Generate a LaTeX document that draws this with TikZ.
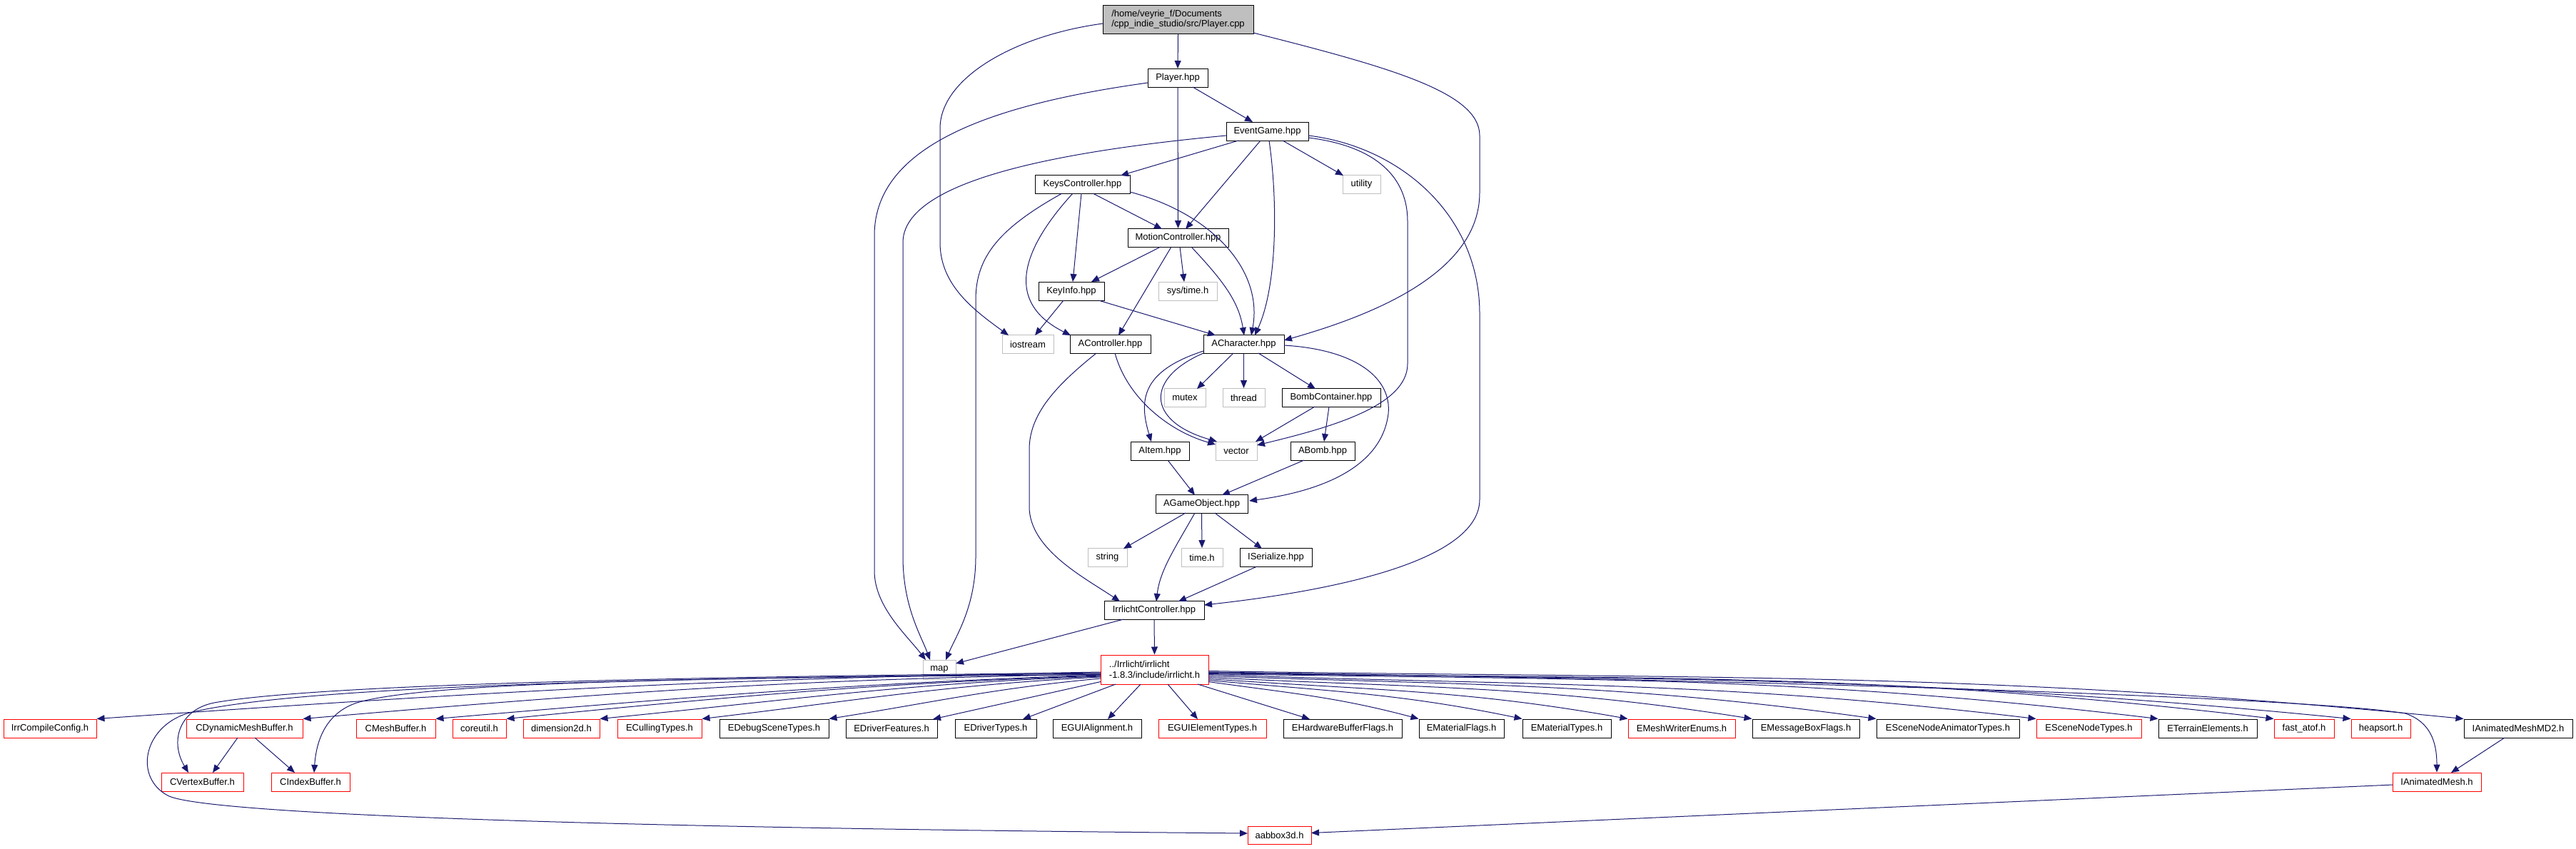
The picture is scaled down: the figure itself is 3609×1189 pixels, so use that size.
\documentclass[tikz,border=0pt]{standalone}
\usepackage{fontspec}
\setmainfont{Liberation Sans}
\usetikzlibrary{arrows.meta,calc}
\definecolor{edgecol}{HTML}{191970}
\definecolor{sysgrey}{HTML}{BFBFBF}
\begin{document}
\begin{tikzpicture}[x=1pt,y=-1pt,
  box/.style={draw, line width=1pt, minimum height=26pt, inner sep=0pt, fill=white,
    font=\fontsize{13}{14.5}\selectfont},
  blkbox/.style={box, draw=black},
  redbox/.style={box, draw=red},
  sysbox/.style={box, draw=sysgrey},
  rootbox/.style={box, draw=black, fill=sysgrey},
  edge/.style={draw=edgecol, line width=1pt, -{Triangle[length=11pt,width=9pt]}}]
\useasboundingbox (0,0) rectangle (3609,1189);
\fill[white] (0,0) rectangle (3609,1189);

% ---- upper part ----
\node[rootbox, minimum width=211pt, minimum height=40pt, align=left] (cpp) at (1650.5,27) {/home/veyrie\_f/Documents\\/cpp\_indie\_studio/src/Player.cpp};
\node[blkbox, minimum width=84pt] (phpp) at (1650,109.5) {Player.hpp};
\node[blkbox, minimum width=115pt] (evg) at (1775.5,184) {EventGame.hpp};
\node[blkbox, minimum width=133pt] (keys) at (1516.5,258.5) {KeysController.hpp};
\node[sysbox, minimum width=53pt] (util) at (1907.5,258.5) {utility};
\node[blkbox, minimum width=141pt] (motion) at (1650.5,333.5) {MotionController.hpp};
\node[blkbox, minimum width=92pt] (keyinfo) at (1501,408) {KeyInfo.hpp};
\node[sysbox, minimum width=82pt] (systime) at (1664,408) {sys/time.h};
\node[sysbox, minimum width=72pt] (iostream) at (1440,482.5) {iostream};
\node[blkbox, minimum width=113pt] (actrl) at (1555.5,482.5) {AController.hpp};
\node[blkbox, minimum width=113pt] (achar) at (1742.5,482.5) {ACharacter.hpp};
\node[sysbox, minimum width=58pt] (mutex) at (1660,557.5) {mutex};
\node[sysbox, minimum width=59pt] (thread) at (1742.5,557.5) {thread};
\node[blkbox, minimum width=138pt] (bombc) at (1865,557.5) {BombContainer.hpp};
\node[blkbox, minimum width=82pt] (aitem) at (1625,632) {AItem.hpp};
\node[sysbox, minimum width=58pt] (vector) at (1732,632) {vector};
\node[blkbox, minimum width=90pt] (abomb) at (1853,632) {ABomb.hpp};
\node[blkbox, minimum width=129pt] (agame) at (1683.5,706.5) {AGameObject.hpp};
\node[sysbox, minimum width=55pt] (string) at (1551.5,781.5) {string};
\node[sysbox, minimum width=58pt] (timeh) at (1684,781.5) {time.h};
\node[blkbox, minimum width=101pt] (iserial) at (1787.5,781.5) {ISerialize.hpp};
\node[blkbox, minimum width=140pt] (irrctrl) at (1617,855.5) {IrrlichtController.hpp};
\node[sysbox, minimum width=46pt, minimum height=27pt] (map) at (1316,938.5) {map};
\node[redbox, minimum width=151pt, minimum height=41pt, align=left] (irrh) at (1617.5,938.5) {../Irrlicht/irrlicht\\-1.8.3/include/irrlicht.h};

% ---- bottom row ----
\node[redbox, minimum width=130pt] (icc) at (70,1021) {IrrCompileConfig.h};
\node[redbox, minimum width=163pt] (cdyn) at (342.5,1021) {CDynamicMeshBuffer.h};
\node[redbox, minimum width=111pt] (cmesh) at (554.5,1021) {CMeshBuffer.h};
\node[redbox, minimum width=75pt] (coreu) at (671.5,1021) {coreutil.h};
\node[redbox, minimum width=107pt] (dim2d) at (786.5,1021) {dimension2d.h};
\node[redbox, minimum width=118pt] (ecull) at (924,1021) {ECullingTypes.h};
\node[blkbox, minimum width=153pt] (edebug) at (1084.5,1021) {EDebugSceneTypes.h};
\node[blkbox, minimum width=128pt] (edrvf) at (1249,1021) {EDriverFeatures.h};
\node[blkbox, minimum width=114pt] (edrvt) at (1395,1021) {EDriverTypes.h};
\node[blkbox, minimum width=124pt] (eguia) at (1537,1021) {EGUIAlignment.h};
\node[redbox, minimum width=151pt] (eguie) at (1698.5,1021) {EGUIElementTypes.h};
\node[blkbox, minimum width=166pt] (ehwb) at (1881,1021) {EHardwareBufferFlags.h};
\node[blkbox, minimum width=119pt] (ematf) at (2047.5,1021) {EMaterialFlags.h};
\node[blkbox, minimum width=124pt] (ematt) at (2195,1021) {EMaterialTypes.h};
\node[redbox, minimum width=150pt] (emesh) at (2356,1021) {EMeshWriterEnums.h};
\node[blkbox, minimum width=150pt] (emsg) at (2530,1021) {EMessageBoxFlags.h};
\node[blkbox, minimum width=200pt] (esna) at (2729,1021) {ESceneNodeAnimatorTypes.h};
\node[redbox, minimum width=147pt] (esnt) at (2926.5,1021) {ESceneNodeTypes.h};
\node[blkbox, minimum width=138pt] (eterr) at (3093,1021) {ETerrainElements.h};
\node[redbox, minimum width=84pt] (fatof) at (3228,1021) {fast\_atof.h};
\node[redbox, minimum width=83pt] (heaps) at (3335.5,1021) {heapsort.h};
\node[blkbox, minimum width=152pt] (md2) at (3528,1021) {IAnimatedMeshMD2.h};
\node[redbox, minimum width=115pt] (cvert) at (283.5,1096) {CVertexBuffer.h};
\node[redbox, minimum width=110pt] (cidx) at (435,1096) {CIndexBuffer.h};
\node[redbox, minimum width=124pt] (ianim) at (3414,1096) {IAnimatedMesh.h};
\node[redbox, minimum width=89pt, minimum height=25pt] (aabb) at (1792.5,1170.5) {aabbox3d.h};

% ---- upper edges ----
\draw[edge] (cpp.south) -- (phpp.north);
\draw[edge] ($(cpp.center)+(-105.5,6)$) .. controls (1420,50) and (1317,110) .. (1317,180) -- (1317,340) .. controls (1317,400) and (1365,435) .. ($(iostream.center)+(-27,-12.5)$);
\draw[edge] ($(cpp.center)+(105.5,19)$) .. controls (1950,95) and (2073,130) .. (2073,190) -- (2073,270) .. controls (2073,380) and (1930,440) .. ($(achar.center)+(56.5,-5.5)$);
\draw[edge] ($(phpp.center)+(21,12.5)$) -- ($(evg.center)+(-20.5,-13)$);
\draw[edge] (phpp.south) -- (motion.north);
\draw[edge] ($(phpp.center)+(-42,6.5)$) .. controls (1400,145) and (1225,200) .. (1225,330) -- (1225,800) .. controls (1225,850) and (1270,890) .. ($(map.center)+(-19,-13.5)$);
\draw[edge] ($(evg.center)+(-57.5,6)$) .. controls (1450,215) and (1265,260) .. (1265,340) -- (1265,780) .. controls (1265,850) and (1290,890) .. ($(map.center)+(-13,-13.5)$);
\draw[edge] ($(evg.center)+(-40.5,13)$) -- ($(keys.center)+(53.5,-12.5)$);
\draw[edge] ($(evg.center)+(-9.5,13)$) -- ($(motion.center)+(10.5,-12.5)$);
\draw[edge] ($(evg.center)+(2.5,13)$) .. controls (1790,280) and (1790,400) .. ($(achar.center)+(15.5,-12.5)$);
\draw[edge] ($(evg.center)+(21.5,13)$) -- ($(util.center)+(-25.5,-12.5)$);
\draw[edge] ($(evg.center)+(57.5,9)$) .. controls (1930,205) and (1972,250) .. (1972,310) -- (1972,510) .. controls (1972,570) and (1860,600) .. ($(vector.center)+(29,-8)$);
\draw[edge] ($(evg.center)+(57.5,6)$) .. controls (1960,205) and (2073,300) .. (2073,440) -- (2073,700) .. controls (2073,790) and (1850,830) .. ($(irrctrl.center)+(70,-7.5)$);
\draw[edge] ($(keys.center)+(14.5,12.5)$) -- ($(motion.center)+(-22.5,-12.5)$);
\draw[edge] ($(keys.center)+(-1.5,12.5)$) -- ($(keyinfo.center)+(2,-13)$);
\draw[edge] ($(keys.center)+(-13.5,12.5)$) .. controls (1440,340) and (1400,420) .. ($(actrl.center)+(-55.5,-12.5)$);
\draw[edge] ($(keys.center)+(66.5,10.5)$) .. controls (1700,300) and (1770,380) .. ($(achar.center)+(10.5,-12.5)$);
\draw[edge] ($(keys.center)+(-28.5,12.5)$) .. controls (1400,320) and (1367,360) .. (1367,420) -- (1367,780) .. controls (1367,850) and (1340,890) .. ($(map.center)+(9,-13.5)$);
\draw[edge] ($(motion.center)+(-24.5,12.5)$) -- ($(keyinfo.center)+(28,-13)$);
\draw[edge] ($(motion.center)+(-9.5,12.5)$) -- ($(actrl.center)+(11.5,-12.5)$);
\draw[edge] ($(motion.center)+(2.5,12.5)$) -- ($(systime.center)+(-5,-13)$);
\draw[edge] ($(motion.center)+(18.5,12.5)$) .. controls (1710,390) and (1735,420) .. ($(achar.center)+(0.5,-12.5)$);
\draw[edge] ($(keyinfo.center)+(-11,13)$) -- ($(iostream.center)+(10,-12.5)$);
\draw[edge] ($(keyinfo.center)+(38,13)$) -- ($(achar.center)+(-39.5,-12.5)$);
\draw[edge] ($(actrl.center)+(-19.5,12.5)$) .. controls (1480,540) and (1442,580) .. (1442,630) -- (1442,710) .. controls (1442,770) and (1520,810) .. ($(irrctrl.center)+(-48,-12.5)$);
\draw[edge] ($(actrl.center)+(6.5,12.5)$) .. controls (1580,560) and (1640,605) .. ($(vector.center)+(-29,-9)$);
\draw[edge] ($(achar.center)+(-14.5,12.5)$) -- ($(mutex.center)+(17,-12.5)$);
\draw[edge] (achar.south) -- (thread.north);
\draw[edge] ($(achar.center)+(20.5,12.5)$) -- ($(bombc.center)+(-22,-12.5)$);
\draw[edge] ($(achar.center)+(-56.5,9.5)$) .. controls (1600,520) and (1595,560) .. ($(aitem.center)+(-12,-13)$);
\draw[edge] ($(achar.center)+(-56.5,12.5)$) .. controls (1605,530) and (1605,590) .. ($(vector.center)+(-27,-13)$);
\draw[edge] ($(achar.center)+(56.5,1.5)$) .. controls (1900,490) and (1950,530) .. (1945,580) .. controls (1935,660) and (1840,690) .. ($(agame.center)+(66.5,-4.5)$);
\draw[edge] ($(bombc.center)+(-23,12.5)$) -- ($(vector.center)+(27,-13)$);
\draw[edge] ($(bombc.center)+(-3,12.5)$) -- ($(abomb.center)+(2,-13)$);
\draw[edge] ($(aitem.center)+(11,13)$) -- ($(agame.center)+(-9.5,-12.5)$);
\draw[edge] ($(abomb.center)+(-26,13)$) -- ($(agame.center)+(28.5,-12.5)$);
\draw[edge] ($(agame.center)+(-22.5,12.5)$) -- ($(string.center)+(22.5,-12.5)$);
\draw[edge] ($(agame.center)+(-9.5,12.5)$) .. controls (1645,770) and (1625,800) .. ($(irrctrl.center)+(3,-12.5)$);
\draw[edge] (agame.south) -- (timeh.north);
\draw[edge] ($(agame.center)+(18.5,12.5)$) -- ($(iserial.center)+(-19.5,-12.5)$);
\draw[edge] ($(iserial.center)+(-26.5,12.5)$) -- ($(irrctrl.center)+(34,-12.5)$);
\draw[edge] ($(irrctrl.center)+(-43,12.5)$) -- ($(map.center)+(23,-8.5)$);
\draw[edge] (irrctrl.south) -- (irrh.north);

% ---- lower edges ----
\foreach \t/\dy/\ex/\a/\b in {icc/3.5/135/.017/.07, cdyn/6.5/424/.017/.087, cmesh/7.5/610/.035/.087, coreu/8.5/709/.035/.1, dim2d/9.5/840/.035/.1, ecull/10.5/983/.05/.12, edebug/12.5/1161/.09/.16}{
  \pgfmathsetmacro\sy{938.5+\dy}
  \pgfmathsetmacro\d{0.39*(1542-\ex)}
  \pgfmathsetmacro\cax{1542-\d}
  \pgfmathsetmacro\cay{\sy+\d*\a}
  \pgfmathsetmacro\cbx{\ex+\d}
  \pgfmathsetmacro\cby{1008-\d*\b}
  \draw[edge] ($(irrh.center)+(-75.5,\dy)$) .. controls (\cax,\cay) and (\cbx,\cby) .. (\t.north east);
}
\draw[edge] ($(irrh.center)+(-75.5,17)$) -- ($(edrvf.center)+(58,-13)$);
\draw[edge] ($(irrh.center)+(-54.5,20.5)$) -- ($(edrvt.center)+(38,-13)$);
\draw[edge] ($(irrh.center)+(-19.5,20.5)$) -- ($(eguia.center)+(15,-13)$);
\draw[edge] ($(irrh.center)+(18.5,20.5)$) -- ($(eguie.center)+(-20.5,-13)$);
\draw[edge] ($(irrh.center)+(60.5,20.5)$) -- ($(ehwb.center)+(-46,-13)$);
\foreach \t/\dy/\ex/\a/\b in {ematf/17/1988/.14/.27, ematt/15/2133/.09/.21, emesh/13/2281/.07/.18, emsg/11/2455/.05/.16, esna/9/2629/.035/.14, esnt/7/2853/.035/.12, eterr/6/3024/.017/.12, fatof/5/3186/.017/.12, heaps/4/3294/.017/.1, md2/2/3452/.017/.1}{
  \pgfmathsetmacro\sy{938.5+\dy}
  \pgfmathsetmacro\d{0.39*(\ex-1693)}
  \pgfmathsetmacro\cax{1693+\d}
  \pgfmathsetmacro\cay{\sy+\d*\a}
  \pgfmathsetmacro\cbx{\ex-\d}
  \pgfmathsetmacro\cby{1008-\d*\b}
  \draw[edge] ($(irrh.center)+(75.5,\dy)$) .. controls (\cax,\cay) and (\cbx,\cby) .. (\t.north west);
}
\draw[edge] ($(irrh.center)+(-75.5,4.5)$) .. controls (1000,948) and (450,958) .. (300,985) .. controls (250,995) and (238,1040) .. ($(cvert.center)+(-19.5,-13)$);
\draw[edge] ($(irrh.center)+(-75.5,5.5)$) .. controls (1000,950) and (420,958) .. (262,1000) .. controls (200,1020) and (188,1090) .. (235,1115) .. controls (280,1140) and (800,1160) .. ($(aabb.center)+(-44.5,-2.5)$);
\draw[edge] ($(irrh.center)+(-75.5,7)$) .. controls (1000,950) and (600,955) .. (500,985) .. controls (455,1000) and (443,1040) .. ($(cidx.center)+(5,-13)$);
\draw[edge] ($(irrh.center)+(75.5,3.5)$) .. controls (2600,955) and (3250,980) .. (3370,1000) .. controls (3405,1012) and (3414,1040) .. (ianim.north);
\draw[edge] ($(cdyn.center)+(-9.5,13)$) -- ($(cvert.center)+(14.5,-13)$);
\draw[edge] ($(cdyn.center)+(14.5,13)$) -- ($(cidx.center)+(-22,-13)$);
\draw[edge] ($(md2.center)+(-19,13)$) -- ($(ianim.center)+(20,-13)$);
\draw[edge] ($(ianim.center)+(-62,4)$) -- ($(aabb.center)+(44.5,-3)$);
\end{tikzpicture}
\end{document}
